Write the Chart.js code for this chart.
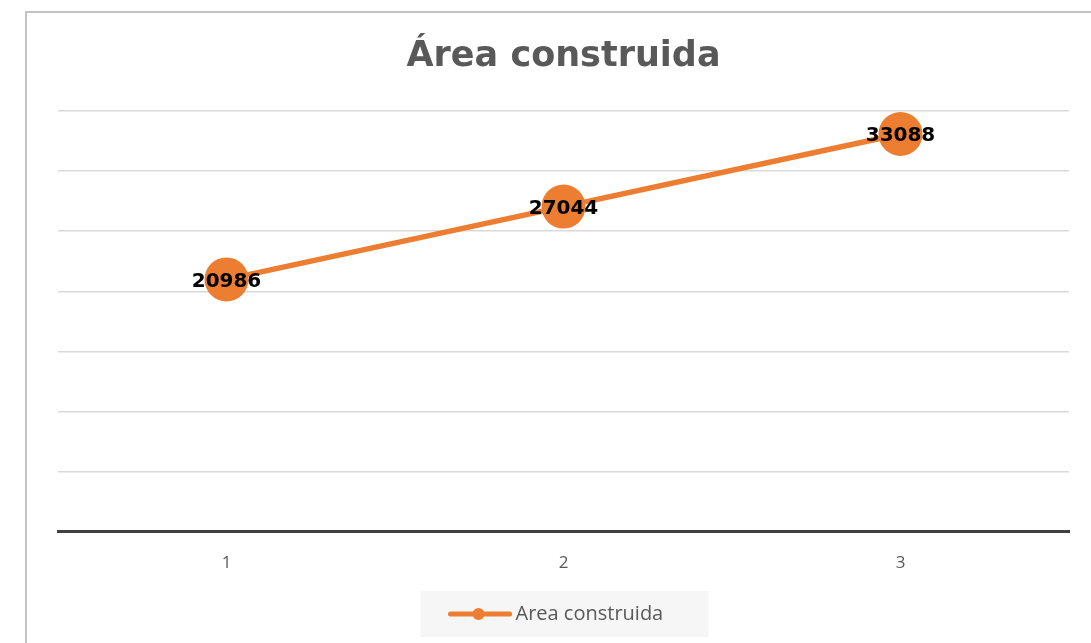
<!DOCTYPE html>
<html>
<head>
<meta charset="utf-8">
<script src="https://cdn.jsdelivr.net/npm/chart.js@4/dist/chart.umd.min.js"></script>
<style>
  html, body { margin: 0; padding: 0; background: #fff; overflow: hidden; }
  #marco { position: absolute; left: 25px; top: 11px; width: 1100px; height: 700px; border: 2px solid #c3c3c3; box-sizing: border-box; }
  #wrap { position: absolute; left: 0; top: 0; width: 1091px; height: 643px; }
</style>
</head>
<body>
<div id="marco"></div>
<div id="wrap"><canvas id="grafico"></canvas></div>
<script>
const categorias = ["1", "2", "3"];
const areaConstruida = [20986, 27044, 33088];
const nomeSerie = "Area construida";
const titulo = "Área construida";
const laranja = "#ED7D31";

// rótulos de dados em cima dos pontos
const rotulos = {
  id: "rotulos",
  afterDatasetsDraw(chart) {
    const ctx = chart.ctx;
    const meta = chart.getDatasetMeta(0);
    ctx.save();
    ctx.font = "bold 20px 'DejaVu Sans'";
    ctx.fillStyle = "#000";
    ctx.textAlign = "center";
    ctx.textBaseline = "middle";
    meta.data.forEach((p, i) => {
      ctx.fillText(String(chart.data.datasets[0].data[i]), p.x, p.y + 2);
    });
    ctx.restore();
  }
};

// legenda com caixa cinza, linha e bolinha
const legenda = {
  id: "legenda",
  afterDraw(chart) {
    const ctx = chart.ctx;
    const area = chart.chartArea;
    const cx = (area.left + area.right) / 2;
    const y = 614;
    ctx.save();
    ctx.fillStyle = "#f6f6f6";
    ctx.fillRect(cx - 143, y - 23, 288, 46);
    ctx.strokeStyle = laranja;
    ctx.lineWidth = 5;
    ctx.lineCap = "round";
    ctx.beginPath();
    ctx.moveTo(cx - 113, y);
    ctx.lineTo(cx - 54, y);
    ctx.stroke();
    ctx.fillStyle = laranja;
    ctx.beginPath();
    ctx.arc(cx - 85, y, 6, 0, Math.PI * 2);
    ctx.fill();
    ctx.font = "20px 'Open Sans'";
    ctx.fillStyle = "#595959";
    ctx.textAlign = "left";
    ctx.textBaseline = "middle";
    ctx.fillText(chart.data.datasets[0].label, cx - 48, y);
    ctx.restore();
  }
};

new Chart(document.getElementById("grafico"), {
  type: "line",
  data: {
    labels: categorias,
    datasets: [{
      label: nomeSerie,
      data: areaConstruida,
      borderColor: laranja,
      backgroundColor: laranja,
      borderWidth: 5.5,
      pointRadius: 22,
      pointHoverRadius: 22,
      pointBorderWidth: 0,
      pointBackgroundColor: laranja,
      tension: 0,
    }],
  },
  options: {
    responsive: true,
    maintainAspectRatio: false,
    animation: false,
    events: [],
    layout: { padding: { left: 58, right: 22, top: 0, bottom: 57 } },
    plugins: {
      legend: { display: false },
      tooltip: { enabled: false },
      title: {
        display: true,
        text: titulo,
        color: "#595959",
        font: { family: "'DejaVu Sans'", size: 35, weight: "bold", lineHeight: 1.2 },
        padding: { top: 36, bottom: 33 },
      },
    },
    scales: {
      x: {
        offset: true,
        grid: { display: false },
        border: { display: true, color: "#404040", width: 3 },
        ticks: { color: "#595959", font: { family: "'Open Sans'", size: 17 }, padding: 13 },
      },
      y: {
        min: 0,
        max: 35000,
        ticks: { display: false, stepSize: 5000 },
        grid: { color: "#d9d9d9", lineWidth: 1.5, drawTicks: false },
        border: { display: false },
      },
    },
  },
  plugins: [rotulos, legenda],
});
</script>
</body>
</html>
